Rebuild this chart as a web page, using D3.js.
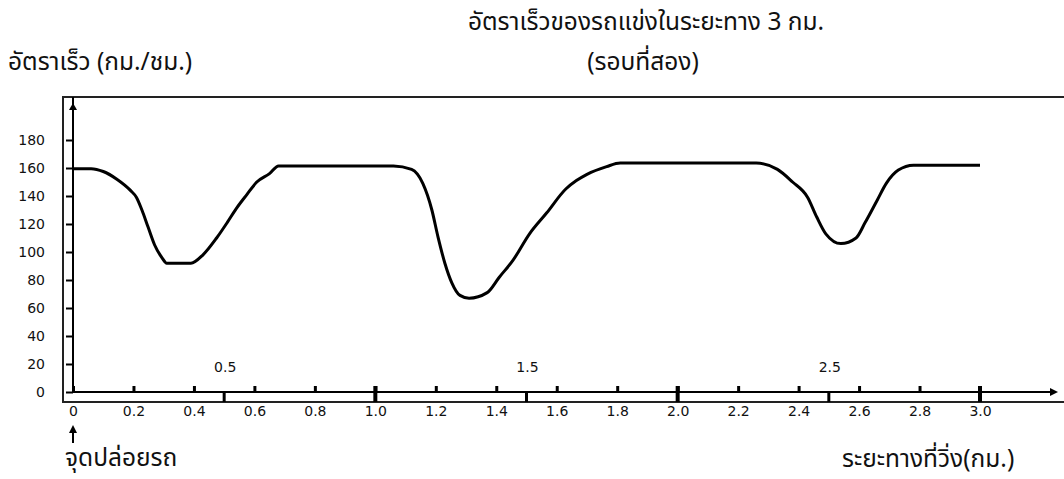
<!DOCTYPE html>
<html>
<head>
<meta charset="utf-8">
<script src="https://cdn.jsdelivr.net/npm/d3@7"></script>
<style>
  body { margin: 0; background: #fff; }
  .thai { font-family: "Noto Sans Thai", "Tahoma", "Noto Sans", sans-serif; fill: #111; font-size: 24.5px; }
</style>
</head>
<body>
<svg width="1064" height="479"></svg>
<script>
// distance (km) and speed (km/h)
var distance = [0, 0.06, 0.1, 0.145, 0.19, 0.21, 0.228, 0.248, 0.27, 0.294, 0.31, 0.39, 0.43, 0.475, 0.51, 0.54, 0.575, 0.608, 0.65, 0.68,
                1.06, 1.12, 1.157, 1.187, 1.207, 1.23, 1.253, 1.28, 1.31, 1.37, 1.41, 1.455, 1.51, 1.567, 1.63, 1.665, 1.7, 1.765, 1.81,
                2.26, 2.33, 2.38, 2.43, 2.46, 2.49, 2.54, 2.59, 2.62, 2.66, 2.69, 2.73, 2.78, 3.0]
var speed = [159.5, 159.5, 157.5, 152, 144, 139, 130, 118, 105, 96, 92, 92, 98, 110, 121, 131, 141, 150, 156, 161.5,
             161.5, 159, 149, 130, 111, 92, 78, 69, 67, 71, 82, 94, 113, 128, 145, 151, 155.5, 161, 163.5,
             163.5, 159, 150, 139, 125, 113, 106, 110, 121, 137, 149, 158.5, 162, 162]

var yTicks = [0, 20, 40, 60, 80, 100, 120, 140, 160, 180]
var xTicks = [0, 0.2, 0.4, 0.6, 0.8, 1.0, 1.2, 1.4, 1.6, 1.8, 2.0, 2.2, 2.4, 2.6, 2.8, 3.0]
var halfTicks = [0.5, 1.5, 2.5]
var wholeTicks = [1, 2, 3]

var title = "อัตราเร็วของรถแข่งในระยะทาง 3 กม."
var subtitle = "(รอบที่สอง)"
var yTitle = "อัตราเร็ว (กม./ชม.)"
var xTitle = "ระยะทางที่วิ่ง(กม.)"
var startLabel = "จุดปล่อยรถ"

var tickFont = "'DejaVu Sans', sans-serif"

var svg = d3.select("svg")

var frame = {left: 63, top: 97, bottom: 402, right: 1064}
var axisY = 392

var x = d3.scaleLinear().domain([0, 3]).range([73, 980])
var y = d3.scaleLinear().domain([0, 180]).range([axisY, 140])

// frame (open on the right)
svg.append("path")
    .attr("d", "M" + frame.right + "," + frame.top + "H" + frame.left + "V" + frame.bottom + "H" + frame.right)
    .attr("fill", "none")
    .attr("stroke", "#222")
    .attr("stroke-width", 2)

// y axis
var yAxis = svg.append("g")
    .attr("transform", "translate(" + x(0) + ",0)")
    .call(d3.axisLeft(y).tickValues(yTicks).tickSize(7).tickPadding(21).tickFormat(d3.format("d")))
yAxis.select(".domain").remove()
yAxis.selectAll(".tick line").attr("stroke", "#000").attr("stroke-width", 2)
yAxis.selectAll(".tick text").style("font-family", tickFont).style("font-size", "14px").attr("fill", "#111")

svg.append("line")
    .attr("x1", x(0)).attr("x2", x(0))
    .attr("y1", frame.top).attr("y2", axisY)
    .attr("stroke", "#000").attr("stroke-width", 2)
svg.append("path")
    .attr("d", "M" + (x(0) - 4) + "," + 110 + "L" + x(0) + "," + 103 + "L" + (x(0) + 4) + "," + 110 + "Z")
    .attr("fill", "#000")

// x axis
var xAxis = svg.append("g")
    .attr("transform", "translate(0," + axisY + ")")
    .call(d3.axisBottom(x).tickValues(xTicks).tickSize(-6).tickPadding(14)
      .tickFormat(function(d) { return d === 0 ? "0" : d.toFixed(1) }))
xAxis.select(".domain").remove()
xAxis.selectAll(".tick line").attr("stroke", "#000").attr("stroke-width", 3)
xAxis.selectAll(".tick text").attr("dy", "0.71em")
    .style("font-family", tickFont).style("font-size", "14px").attr("fill", "#111")

svg.append("line")
    .attr("x1", x(0)).attr("x2", 1052)
    .attr("y1", axisY).attr("y2", axisY)
    .attr("stroke", "#000").attr("stroke-width", 2)
svg.append("path")
    .attr("d", "M1050," + (axisY - 4) + "L1058," + axisY + "L1050," + (axisY + 4) + "Z")
    .attr("fill", "#000")

// half-km marks below the axis, labelled above it
svg.selectAll(".half").data(halfTicks).enter().append("line")
    .attr("class", "half")
    .attr("x1", function(d) { return x(d) }).attr("x2", function(d) { return x(d) })
    .attr("y1", axisY).attr("y2", frame.bottom)
    .attr("stroke", "#000").attr("stroke-width", 3)
svg.selectAll(".halflab").data(halfTicks).enter().append("text")
    .attr("x", function(d) { return x(d) + 1 })
    .attr("y", 372)
    .attr("text-anchor", "middle")
    .attr("fill", "#111")
    .style("font-family", tickFont).style("font-size", "14px")
    .text(function(d) { return d.toFixed(1) })

// whole-km marks go through
svg.selectAll(".whole").data(wholeTicks).enter().append("line")
    .attr("x1", function(d) { return x(d) }).attr("x2", function(d) { return x(d) })
    .attr("y1", axisY - 6).attr("y2", frame.bottom)
    .attr("stroke", "#000").attr("stroke-width", 4)

// speed curve
var pts = distance.map(function(d, i) { return [d, speed[i]] })
svg.append("path")
    .datum(pts)
    .attr("fill", "none")
    .attr("stroke", "#000")
    .attr("stroke-width", 3)
    .attr("d", d3.line()
      .x(function(d) { return x(d[0]) })
      .y(function(d) { return y(d[1]) })
      .curve(d3.curveMonotoneX))

// start arrow
svg.append("line")
    .attr("x1", x(0)).attr("x2", x(0))
    .attr("y1", 443).attr("y2", 430)
    .attr("stroke", "#000").attr("stroke-width", 2)
svg.append("path")
    .attr("d", "M" + (x(0) - 4) + ",433L" + x(0) + ",425L" + (x(0) + 4) + ",433Z")
    .attr("fill", "#000")

// texts
svg.append("text").attr("class", "thai").attr("x", 646).attr("y", 30)
    .attr("text-anchor", "middle").text(title)
svg.append("text").attr("class", "thai").attr("x", 643).attr("y", 70)
    .attr("text-anchor", "middle").text(subtitle)
svg.append("text").attr("class", "thai").attr("x", 8).attr("y", 70)
    .text(yTitle)
svg.append("text").attr("class", "thai").attr("x", 842).attr("y", 467)
    .text(xTitle)
svg.append("text").attr("class", "thai").attr("x", 65).attr("y", 466)
    .text(startLabel)
</script>
</body>
</html>
